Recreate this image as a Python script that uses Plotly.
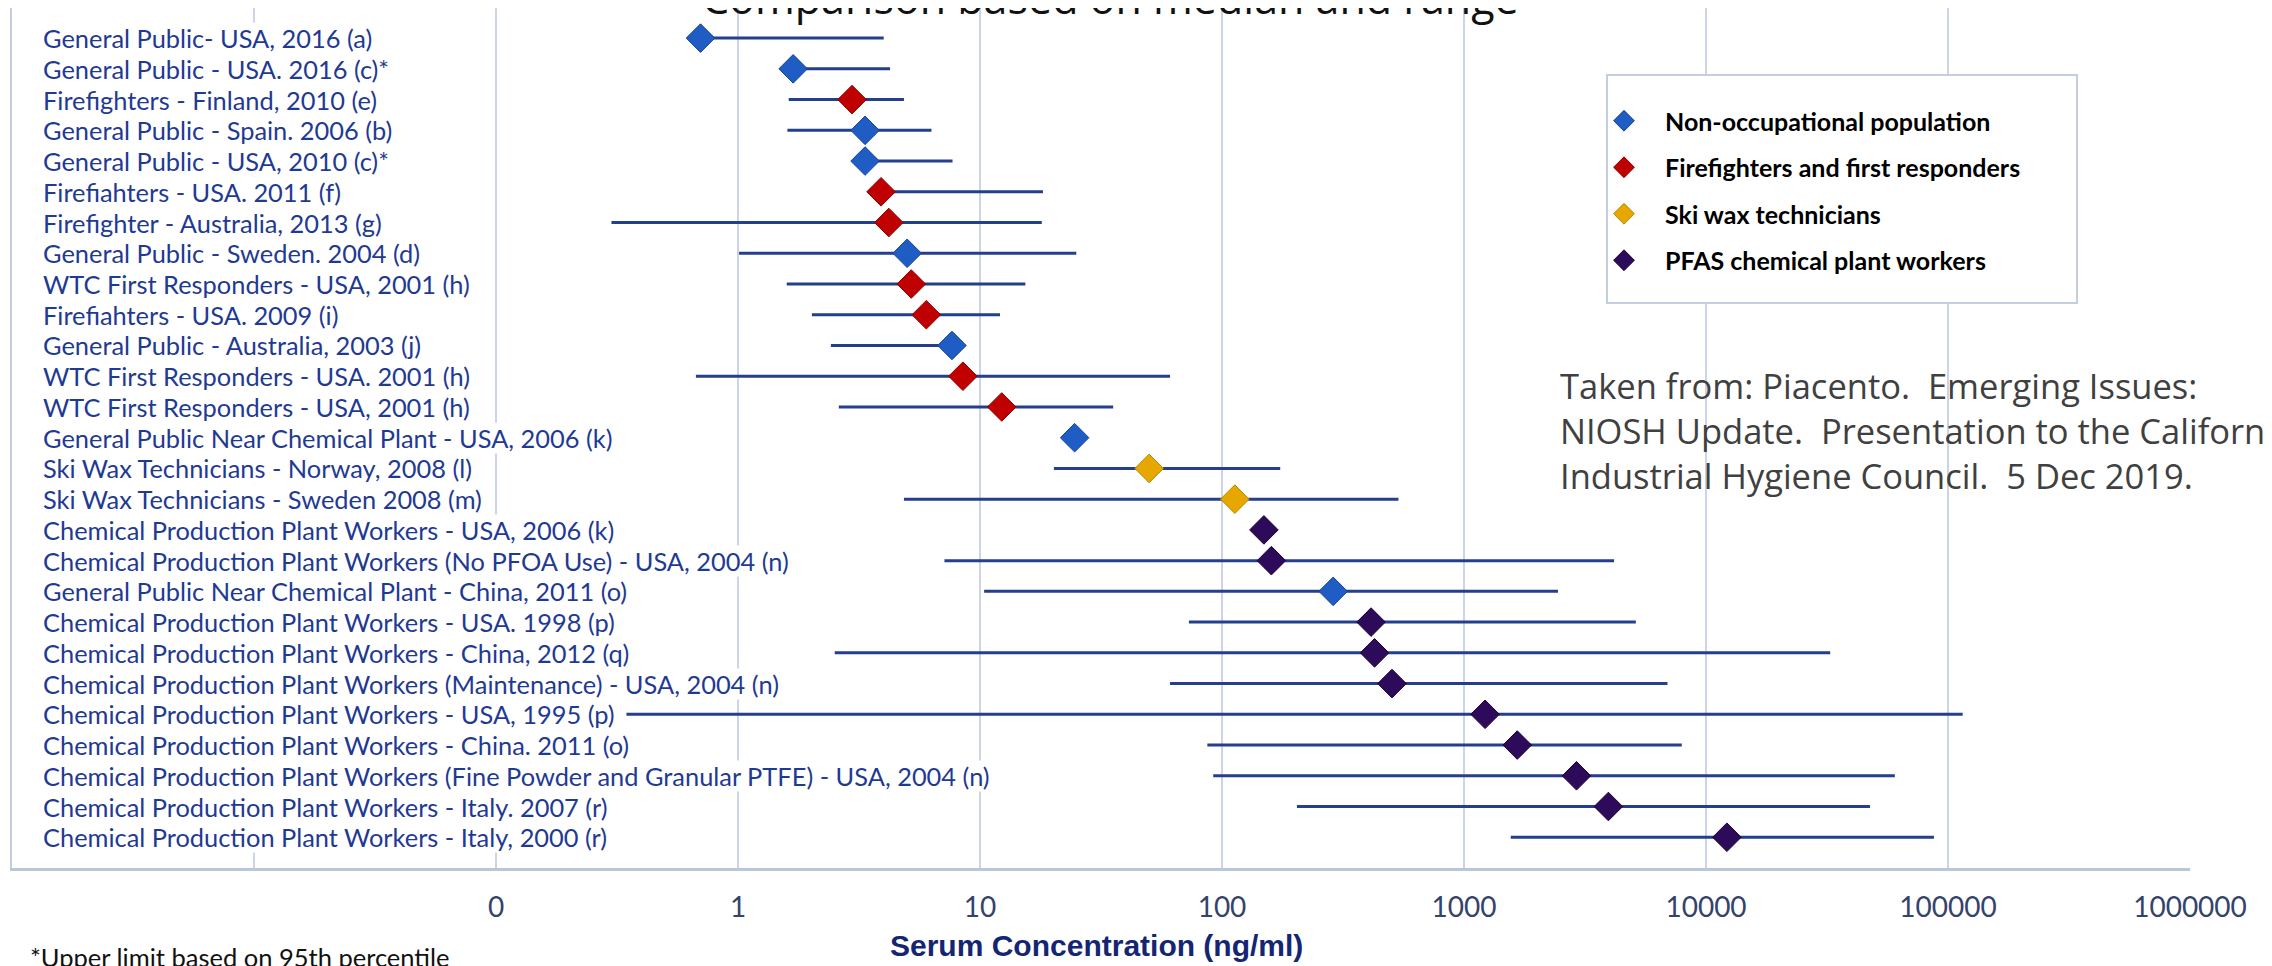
import plotly.graph_objects as go

# The page body adds an 8px margin, so the figure is laid out in coordinates
# shifted by 8px from the reference picture.
W, H = 2264, 958
L, R, T, B = 4, 2182, 0, 860  # plot area in figure pixels

labels = [
    "General Public- USA, 2016 (a)",
    "General Public - USA. 2016 (c)*",
    "Firefighters - Finland, 2010 (e)",
    "General Public - Spain. 2006 (b)",
    "General Public - USA, 2010 (c)*",
    "Firefiahters - USA. 2011 (f)",
    "Firefighter - Australia, 2013 (g)",
    "General Public - Sweden. 2004 (d)",
    "WTC First Responders - USA, 2001 (h)",
    "Firefiahters - USA. 2009 (i)",
    "General Public - Australia, 2003 (j)",
    "WTC First Responders - USA. 2001 (h)",
    "WTC First Responders - USA, 2001 (h)",
    "General Public Near Chemical Plant - USA, 2006 (k)",
    "Ski Wax Technicians - Norway, 2008 (l)",
    "Ski Wax Technicians - Sweden 2008 (m)",
    "Chemical Production Plant Workers - USA, 2006 (k)",
    "Chemical Production Plant Workers (No PFOA Use) - USA, 2004 (n)",
    "General Public Near Chemical Plant - China, 2011 (o)",
    "Chemical Production Plant Workers - USA. 1998 (p)",
    "Chemical Production Plant Workers - China, 2012 (q)",
    "Chemical Production Plant Workers (Maintenance) - USA, 2004 (n)",
    "Chemical Production Plant Workers - USA, 1995 (p)",
    "Chemical Production Plant Workers - China. 2011 (o)",
    "Chemical Production Plant Workers (Fine Powder and Granular PTFE) - USA, 2004 (n)",
    "Chemical Production Plant Workers - Italy. 2007 (r)",
    "Chemical Production Plant Workers - Italy, 2000 (r)",
]

groups = ["N", "N", "F", "N", "N", "F", "F", "N", "F", "F", "N", "F", "F", "N",
          "S", "S", "P", "P", "N", "P", "P", "P", "P", "P", "P", "P", "P"]

medians = [0.70, 1.69, 2.96, 3.35, 3.35, 3.9, 4.2, 5.0, 5.2, 6.0, 7.66, 8.5, 12.3, 24.6,
           50, 113, 149, 160, 288, 413, 427, 504, 1222, 1660, 2917, 3950, 12200]
lows = [0.70, 1.69, 1.62, 1.6, 3.35, 3.9, 0.30, 1.01, 1.59, 2.02, 2.42, 0.67, 2.61, 24.6,
        20.2, 4.85, 149, 7.13, 10.4, 73, 2.51, 61, 0.346, 87, 92, 204, 1560]
highs = [4.0, 4.25, 4.85, 6.3, 7.7, 18.2, 18, 25, 15.4, 12.1, 7.66, 61, 35.5, 24.6,
         174, 536, 149, 4170, 2445, 5130, 32600, 6930, 115000, 7940, 60300, 47600, 87500]

group_names = {
    "N": "Non-occupational population",
    "F": "Firefighters and first responders",
    "S": "Ski wax technicians",
    "P": "PFAS chemical plant workers",
}
group_colors = {"N": "#1F5CC4", "F": "#C00000", "S": "#E6A800", "P": "#2E0B5A"}
group_edges = {"N": "#17449A", "F": "#8E0000", "S": "#B88600", "P": "#1A0438"}

tick_vals = [0.01, 0.1, 1, 10, 100, 1000, 10000, 100000, 1000000]
tick_text = ["", "0", "1", "10", "100", "1000", "10000", "100000", "1000000"]


def px(X):
    return (X - L) / (R - L)


def py(Y):
    return (B - Y) / (B - T)


fig = go.Figure()

# range lines
lx, ly = [], []
for i in range(len(labels)):
    lx += [lows[i], highs[i], None]
    ly += [i, i, None]
fig.add_trace(go.Scatter(x=lx, y=ly, mode="lines", line=dict(color="#233F8E", width=3),
                         showlegend=False, hoverinfo="skip"))

# median diamonds
for g in ["N", "F", "S", "P"]:
    idx = [i for i in range(len(labels)) if groups[i] == g]
    fig.add_trace(go.Scatter(
        x=[medians[i] for i in idx], y=idx, mode="markers", name=group_names[g],
        legendgroup=g,
        marker=dict(symbol="diamond", size=22, color=group_colors[g],
                    line=dict(color=group_edges[g], width=1)),
    ))

label_font = dict(family="Lato", size=25.4)
annotations = []
# white backgrounds first (hide the gridlines behind the labels)
for i, lab in enumerate(labels):
    annotations.append(dict(
        x=px(34), xref="paper", y=i, yref="y", text=lab, showarrow=False,
        xanchor="left", yanchor="middle", bgcolor="white", borderpad=0,
        font=dict(label_font, color="rgba(0,0,0,0)"),
    ))
for i, lab in enumerate(labels):
    annotations.append(dict(
        x=px(34), xref="paper", y=i, yref="y", text=lab, showarrow=False,
        xanchor="left", yanchor="middle", borderpad=0,
        font=dict(label_font, color="#1F3A93"),
    ))

annotations += [
    dict(x=px(1102), xref="paper", y=py(-10), yref="paper",
         text="Comparison based on median and range", showarrow=False,
         xanchor="center", yanchor="middle",
         font=dict(family="Open Sans", size=43, color="#111111")),
    dict(x=px(1550), xref="paper", y=py(422), yref="paper",
         text="Taken from: Piacento. \u00a0Emerging Issues:<br>NIOSH Update. \u00a0Presentation to the California<br>Industrial Hygiene Council. \u00a05 Dec 2019.",
         showarrow=False, xanchor="left", yanchor="middle", align="left",
         font=dict(family="Open Sans", size=34.5, color="#404040")),
    dict(x=px(1088), xref="paper", y=py(938), yref="paper",
         text="<b>Serum Concentration (ng/ml)</b>", showarrow=False,
         xanchor="center", yanchor="middle",
         font=dict(family="Liberation Sans", size=30, color="#142673")),
    dict(x=px(20), xref="paper", y=py(949), yref="paper",
         text="*Upper limit based on 95th percentile", showarrow=False,
         xanchor="left", yanchor="middle",
         font=dict(family="Lato", size=25.5, color="#111111")),
]

shapes = [dict(type="rect", xref="paper", yref="paper",
               x0=px(1599), x1=px(2069), y0=py(295), y1=py(67),
               fillcolor="white", line=dict(color="#C5CEE0", width=2), layer="above")]

fig.update_layout(
    width=W, height=H,
    margin=dict(l=L, r=W - R, t=T, b=H - B, pad=0),
    paper_bgcolor="white", plot_bgcolor="white",
    annotations=annotations, shapes=shapes,
    legend=dict(x=px(1575), y=py(90), xanchor="left", yanchor="top",
                bgcolor="rgba(0,0,0,0)", borderwidth=0, tracegroupgap=11,
                itemwidth=72,
                font=dict(family="Lato", size=25, color="#000000", weight="bold")),
    xaxis=dict(type="log", range=[-3, 6], tickvals=tick_vals, ticktext=tick_text,
               showgrid=True, gridcolor="#CCD5E8", gridwidth=1.5,
               showline=True, linecolor="#BCC6DA", linewidth=3,
               ticks="outside", ticklen=12, tickcolor="rgba(0,0,0,0)",
               tickfont=dict(family="Lato", size=28, color="#34436B"),
               zeroline=False),
    yaxis=dict(range=[27.0, -0.98], showticklabels=False, showgrid=False, zeroline=False,
               showline=True, linecolor="#C5CEE0", linewidth=2, ticks=""),
)

fig.write_html("out.html")
